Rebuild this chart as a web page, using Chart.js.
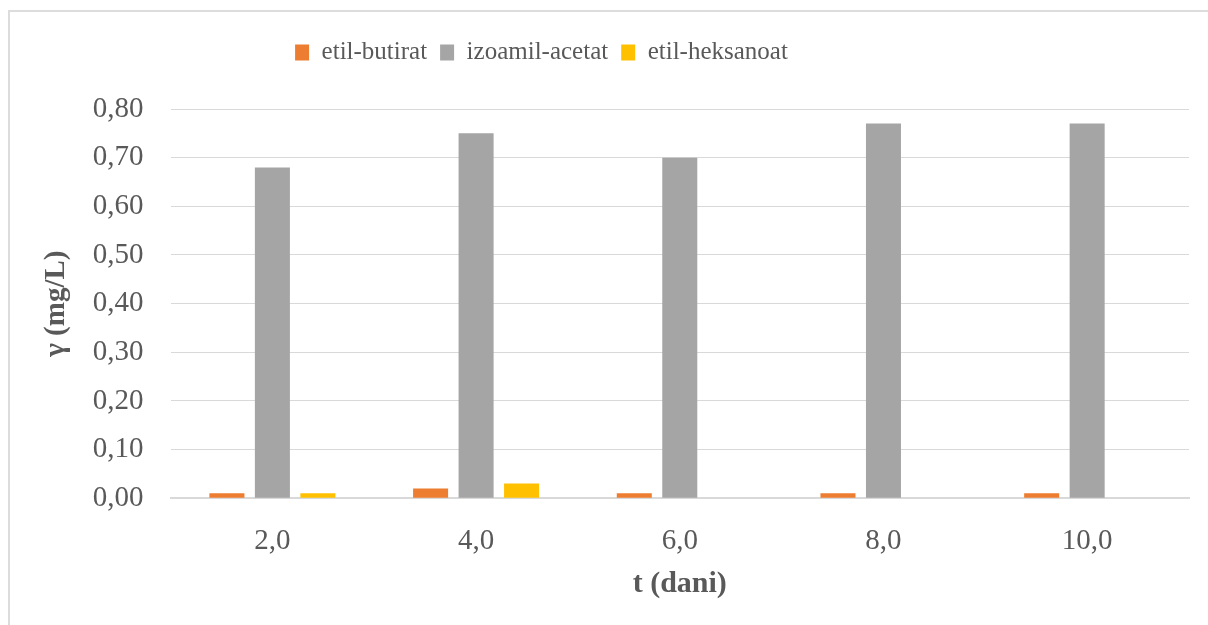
<!DOCTYPE html>
<html>
<head>
<meta charset="utf-8">
<script src="https://cdn.jsdelivr.net/npm/chart.js@4.4.1/dist/chart.umd.min.js"></script>
<style>
  body { margin: 0; background: #fff; overflow: hidden; }
  #okvir { position: relative; width: 1208px; height: 625px; }
  #rub {
    position: absolute; left: 8px; top: 10px; width: 1300px; height: 700px;
    border: 2px solid #dcdcdc; box-sizing: border-box;
  }
  #graf { position: absolute; left: 0; top: 0; }
</style>
</head>
<body>
<div id="okvir">
  <div id="rub"></div>
  <canvas id="graf" width="1208" height="625"></canvas>
</div>
<script>
const dani = ["2,0", "4,0", "6,0", "8,0", "10,0"];
const etilButirat = [0.01, 0.02, 0.01, 0.01, 0.01];
const izoamilAcetat = [0.68, 0.75, 0.70, 0.77, 0.77];
const etilHeksanoat = [0.01, 0.03, 0, 0, 0];
const nazivi = ["etil-butirat", "izoamil-acetat", "etil-heksanoat"];
const boje = ["#ED7D31", "#A5A5A5", "#FFC000"];

const sivaTekst = "#595959";
const font = "'Liberation Serif', 'Times New Roman', serif";

// legenda u Chart.js nema margin ispod, pa dodajemo malo visine
// i pomicemo je malo ulijevo (kao u originalu, centrirana iznad podrucja crtanja)
const razmakLegende = {
  id: "razmakLegende",
  beforeInit(chart) {
    const fit = chart.legend.fit;
    chart.legend.fit = function () {
      fit.bind(chart.legend)();
      this.height += 34;
    };
  },
  afterLayout(chart) {
    chart.legend.left -= 63;
    chart.legend.right -= 63;
  },
};

function crearGraf() {
  const ctx = document.getElementById("graf").getContext("2d");
  const serije = [etilButirat, izoamilAcetat, etilHeksanoat];

  new Chart(ctx, {
    type: "bar",
    data: {
      labels: dani,
      datasets: serije.map((vrijednosti, i) => ({
        label: nazivi[i],
        data: vrijednosti,
        backgroundColor: boje[i],
        borderWidth: 0,
        categoryPercentage: 0.67,
        barPercentage: 0.77,
      })),
    },
    plugins: [razmakLegende],
    options: {
      responsive: false,
      animation: false,
      layout: { padding: { left: 20, right: 19, top: 27, bottom: 23 } },
      plugins: {
        tooltip: { enabled: false },
        legend: {
          position: "top",
          labels: {
            color: sivaTekst,
            font: { family: font, size: 25 },
            boxWidth: 14,
            boxHeight: 16,
            padding: 13,
          },
        },
      },
      scales: {
        x: {
          grid: { display: false, drawTicks: false },
          border: { color: "#d9d9d9", width: 2 },
          ticks: {
            color: sivaTekst,
            font: { family: font, size: 29 },
            padding: 26,
          },
          title: {
            display: true,
            text: "t (dani)",
            color: sivaTekst,
            font: { family: font, size: 30, weight: "bold" },
            padding: { top: -19, bottom: 0 },
          },
        },
        y: {
          min: 0,
          max: 0.8,
          ticks: {
            stepSize: 0.1,
            color: sivaTekst,
            font: { family: font, size: 29 },
            padding: 27,
            callback: (v) => v.toFixed(2).replace(".", ","),
          },
          grid: { color: "#d9d9d9", drawTicks: false },
          border: { display: false },
          title: {
            display: true,
            text: "γ (mg/L)",
            color: sivaTekst,
            font: { family: font, size: 29, weight: "bold" },
            padding: { top: 19, bottom: -8 },
          },
        },
      },
    },
  });
}

document.addEventListener("DOMContentLoaded", crearGraf);
</script>
</body>
</html>
